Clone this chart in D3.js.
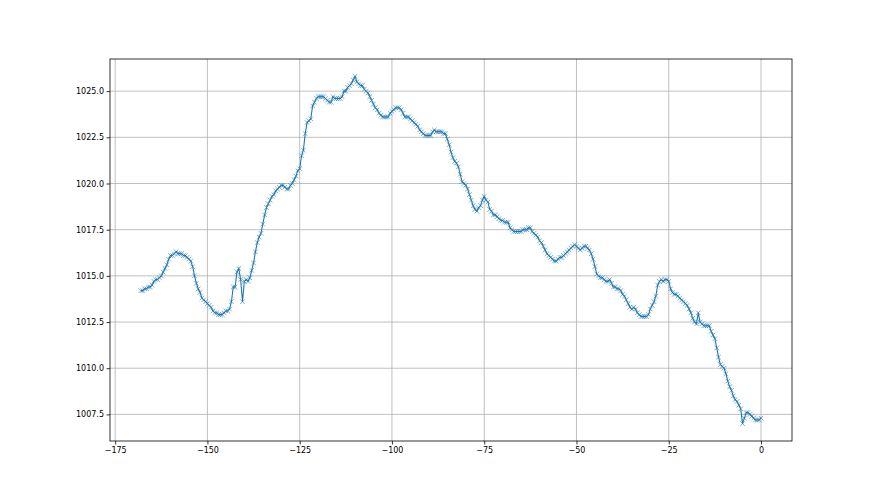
<!DOCTYPE html>
<html>
<head>
<meta charset="utf-8">
<script src="https://cdn.jsdelivr.net/npm/d3@7"></script>
<style>
  body { margin: 0; background: #fff; }
  svg { display: block; }
  .tick text { font-family: "DejaVu Sans", sans-serif; font-size: 8px; fill: #000; }
</style>
</head>
<body>
<div id="chart"></div>
<script>
// hours before now, half-hourly readings
const hours = d3.range(-168, 0.5, 0.5)

// pressure (hPa), one row = 5 hours
const pressure = [
  1014.2, 1014.2, 1014.3, 1014.3, 1014.4, 1014.4, 1014.5, 1014.7, 1014.8, 1014.8,
  1014.9, 1015.0, 1015.2, 1015.4, 1015.6, 1015.9, 1016.1, 1016.1, 1016.2, 1016.3,
  1016.2, 1016.2, 1016.2, 1016.1, 1016.1, 1016.0, 1015.9, 1015.8, 1015.5, 1015.0,
  1014.6, 1014.3, 1014.1, 1013.8, 1013.7, 1013.6, 1013.5, 1013.4, 1013.3, 1013.1,
  1013.0, 1013.0, 1012.9, 1012.9, 1012.9, 1013.0, 1013.1, 1013.1, 1013.2, 1013.6,
  1014.4, 1014.4, 1015.2, 1015.4, 1014.8, 1013.6, 1014.7, 1014.8, 1014.7, 1014.9,
  1015.3, 1015.7, 1016.3, 1016.8, 1017.1, 1017.3, 1017.8, 1018.3, 1018.7, 1018.9,
  1019.1, 1019.3, 1019.4, 1019.6, 1019.7, 1019.8, 1019.9, 1019.9, 1019.8, 1019.7,
  1019.7, 1019.9, 1020.0, 1020.2, 1020.4, 1020.7, 1020.8, 1021.5, 1021.8, 1022.7,
  1023.3, 1023.4, 1023.5, 1024.2, 1024.4, 1024.6, 1024.7, 1024.7, 1024.7, 1024.7,
  1024.6, 1024.5, 1024.4, 1024.4, 1024.7, 1024.6, 1024.6, 1024.6, 1024.6, 1024.7,
  1025.0, 1025.0, 1025.2, 1025.3, 1025.4, 1025.6, 1025.8, 1025.5, 1025.4, 1025.3,
  1025.3, 1025.1, 1025.0, 1024.9, 1024.7, 1024.5, 1024.3, 1024.1, 1024.0, 1023.8,
  1023.7, 1023.6, 1023.6, 1023.6, 1023.6, 1023.8, 1023.9, 1024.0, 1024.1, 1024.1,
  1024.1, 1024.0, 1023.8, 1023.6, 1023.6, 1023.6, 1023.5, 1023.4, 1023.3, 1023.2,
  1023.1, 1022.9, 1022.8, 1022.7, 1022.6, 1022.6, 1022.6, 1022.6, 1022.8, 1022.9,
  1022.8, 1022.8, 1022.8, 1022.8, 1022.7, 1022.7, 1022.4, 1022.1, 1021.7, 1021.4,
  1021.2, 1021.1, 1020.9, 1020.5, 1020.1, 1020.0, 1019.9, 1019.7, 1019.4, 1019.1,
  1018.8, 1018.6, 1018.5, 1018.7, 1018.8, 1019.1, 1019.3, 1019.1, 1019.0, 1018.6,
  1018.5, 1018.3, 1018.3, 1018.2, 1018.1, 1018.0, 1018.0, 1017.9, 1017.9, 1017.9,
  1017.6, 1017.5, 1017.4, 1017.4, 1017.4, 1017.4, 1017.4, 1017.5, 1017.5, 1017.5,
  1017.6, 1017.6, 1017.4, 1017.3, 1017.2, 1017.1, 1016.9, 1016.8, 1016.6, 1016.4,
  1016.2, 1016.1, 1016.0, 1015.9, 1015.8, 1015.8, 1015.9, 1016.0, 1016.0, 1016.1,
  1016.2, 1016.3, 1016.4, 1016.5, 1016.6, 1016.7, 1016.6, 1016.5, 1016.4, 1016.5,
  1016.6, 1016.6, 1016.5, 1016.4, 1016.2, 1015.9, 1015.5, 1015.1, 1015.0, 1014.9,
  1014.9, 1014.8, 1014.7, 1014.7, 1014.8, 1014.6, 1014.4, 1014.4, 1014.3, 1014.3,
  1014.2, 1014.0, 1013.9, 1013.7, 1013.5, 1013.3, 1013.2, 1013.3, 1013.2, 1013.0,
  1012.9, 1012.8, 1012.8, 1012.8, 1012.8, 1012.9, 1013.2, 1013.4, 1013.6, 1013.9,
  1014.5, 1014.7, 1014.8, 1014.7, 1014.8, 1014.8, 1014.7, 1014.3, 1014.1, 1014.0,
  1014.0, 1013.9, 1013.8, 1013.7, 1013.6, 1013.5, 1013.4, 1013.2, 1013.0, 1012.7,
  1012.5, 1012.4, 1013.0, 1012.5, 1012.4, 1012.3, 1012.3, 1012.3, 1012.3, 1012.0,
  1011.8, 1011.6, 1011.1, 1010.6, 1010.2, 1010.1, 1010.0, 1009.7, 1009.3, 1009.0,
  1008.8, 1008.5, 1008.3, 1008.2, 1008.0, 1007.8, 1007.0, 1007.3, 1007.6, 1007.6,
  1007.5, 1007.4, 1007.3, 1007.2, 1007.2, 1007.2, 1007.3
]

const xTicks = [-175, -150, -125, -100, -75, -50, -25, 0]
const yTicks = [1007.5, 1010.0, 1012.5, 1015.0, 1017.5, 1020.0, 1022.5, 1025.0]

const data = hours.map((h, i) => [h, pressure[i]])

const width = 880
const height = 495
const margin = { top: 59, right: 88, bottom: 54, left: 110 }

// matplotlib style 5% padding around the data
const pad = (ext) => {
  const span = ext[1] - ext[0]
  return [ext[0] - span * 0.05, ext[1] + span * 0.05]
}

const x = d3.scaleLinear()
  .domain(pad(d3.extent(data, d => d[0])))
  .range([margin.left, width - margin.right])

const y = d3.scaleLinear()
  .domain(pad(d3.extent(data, d => d[1])))
  .range([height - margin.bottom, margin.top])

const svg = d3.select('#chart')
  .append('svg')
  .attr('width', width)
  .attr('height', height)
  .attr('viewBox', [0, 0, width, height])

// grid
svg.append('g')
  .selectAll('line')
  .data(xTicks)
  .join('line')
  .attr('x1', d => x(d)).attr('x2', d => x(d))
  .attr('y1', margin.top).attr('y2', height - margin.bottom)
  .attr('stroke', '#b0b0b0')
  .attr('stroke-width', 0.8)

svg.append('g')
  .selectAll('line')
  .data(yTicks)
  .join('line')
  .attr('x1', margin.left).attr('x2', width - margin.right)
  .attr('y1', d => y(d)).attr('y2', d => y(d))
  .attr('stroke', '#b0b0b0')
  .attr('stroke-width', 0.8)

// the series
const line = d3.line()
  .x(d => x(d[0]))
  .y(d => y(d[1]))

svg.append('path')
  .datum(data)
  .attr('fill', 'none')
  .attr('stroke', '#1f77b4')
  .attr('stroke-width', 1.1)
  .attr('d', line)

const r = 2.3
svg.append('g')
  .selectAll('path')
  .data(data)
  .join('path')
  .attr('transform', d => `translate(${x(d[0])},${y(d[1])})`)
  .attr('d', `M${-r},${-r}L${r},${r}M${-r},${r}L${r},${-r}`)
  .attr('stroke', '#1f77b4')
  .attr('stroke-opacity', 0.85)
  .attr('stroke-width', 0.7)
  .attr('fill', 'none')

// axes
const xAxis = d3.axisBottom(x)
  .tickValues(xTicks)
  .tickSize(3.5)
  .tickPadding(2.5)
  .tickFormat(d3.format('d'))

const yAxis = d3.axisLeft(y)
  .tickValues(yTicks)
  .tickSize(3.5)
  .tickPadding(2.5)
  .tickFormat(d3.format('.1f'))

svg.append('g')
  .attr('transform', `translate(0,${height - margin.bottom})`)
  .call(xAxis)
  .call(g => g.select('.domain').remove())
  .call(g => g.selectAll('.tick line').attr('stroke', '#000').attr('stroke-width', 0.8))

svg.append('g')
  .attr('transform', `translate(${margin.left},0)`)
  .call(yAxis)
  .call(g => g.select('.domain').remove())
  .call(g => g.selectAll('.tick line').attr('stroke', '#000').attr('stroke-width', 0.8))

// frame
svg.append('rect')
  .attr('x', margin.left)
  .attr('y', margin.top)
  .attr('width', width - margin.left - margin.right)
  .attr('height', height - margin.top - margin.bottom)
  .attr('fill', 'none')
  .attr('stroke', '#000')
  .attr('stroke-width', 0.8)
</script>
</body>
</html>
